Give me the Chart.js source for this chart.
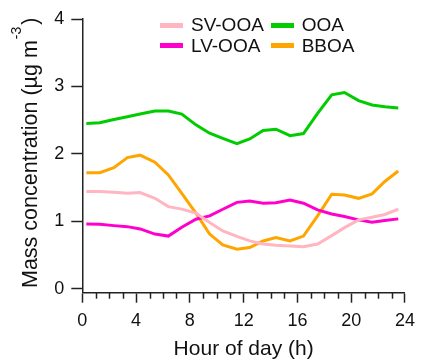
<!DOCTYPE html>
<html>
<head>
<meta charset="utf-8">
<script src="https://cdn.jsdelivr.net/npm/chart.js@4/dist/chart.umd.min.js"></script>
<style>
  html, body { margin: 0; padding: 0; background: #fff; }
  #wrap { position: relative; width: 423px; height: 361px; }
  #legend { position: absolute; left: 0; top: 0; font-family: "Liberation Sans", Arial, sans-serif; font-size: 19px; color: #111; }
  .item { position: absolute; display: flex; align-items: center; height: 20px; line-height: 20px; white-space: nowrap; }
  .sw { width: 23px; height: 5px; margin-right: 8px; }
</style>
</head>
<body>
<div id="wrap">
  <canvas id="c" width="423" height="361"></canvas>
  <div id="legend"></div>
</div>
<script>
// Hour of day (h) of each averaged point
const hours = [0.3, 1.3, 2.35, 3.35, 4.3, 5.4, 6.4, 7.4, 8.45, 9.47, 10.45, 11.5,
               12.45, 13.45, 14.4, 15.45, 16.45, 17.5, 18.55, 19.5, 20.55, 21.55, 22.5, 23.5];

// Diurnal mass concentrations (µg m-3)
const svOOA = [1.44, 1.44, 1.43, 1.415, 1.425, 1.34, 1.217, 1.18, 1.12, 0.98, 0.856, 0.775,
               0.708, 0.663, 0.644, 0.633, 0.623, 0.663, 0.787, 0.905, 1.02, 1.06, 1.10, 1.178];
const lvOOA = [0.96, 0.955, 0.935, 0.92, 0.886, 0.81, 0.78, 0.91, 1.03, 1.08, 1.178, 1.28,
               1.30, 1.267, 1.276, 1.316, 1.267, 1.168, 1.108, 1.07, 1.02, 0.985, 1.01, 1.035];
const ooa   = [2.45, 2.46, 2.51, 2.55, 2.59, 2.635, 2.635, 2.59, 2.43, 2.305, 2.23, 2.15,
               2.22, 2.345, 2.365, 2.27, 2.30, 2.6, 2.875, 2.91, 2.79, 2.725, 2.70, 2.68];
const bboa  = [1.72, 1.72, 1.795, 1.944, 1.98, 1.875, 1.687, 1.415, 1.12, 0.81, 0.65, 0.585,
               0.61, 0.708, 0.757, 0.708, 0.78, 1.08, 1.40, 1.39, 1.34, 1.405, 1.59, 1.746];

const xTicks = [0, 4, 8, 12, 16, 20, 24];
const yTicks = [0, 1, 2, 3, 4];

const FONT = "'Liberation Sans', Arial, sans-serif";
const AXIS = '#222';

const pts = arr => arr.map((v, i) => ({ x: hours[i], y: v }));
const line = (label, data, color) => ({
  label, data: pts(data), borderColor: color, backgroundColor: color,
  borderWidth: 3, pointRadius: 0, tension: 0, fill: false,
  borderJoinStyle: 'miter', borderCapStyle: 'butt'
});

const datasets = [
  line('SV-OOA', svOOA, '#FFB6C1'),
  line('LV-OOA', lvOOA, '#FF00CC'),
  line('OOA', ooa, '#00CC00'),
  line('BBOA', bboa, '#FFA500')
];

// minor hour ticks and the axis titles
const extras = {
  id: 'extras',
  afterDraw(chart) {
    const ctx = chart.ctx;
    const xs = chart.scales.x;
    const area = chart.chartArea;
    ctx.save();
    ctx.strokeStyle = AXIS;
    ctx.lineWidth = 1.5;
    for (let h = 0; h <= 24; h++) {
      if (h % 4 === 0) continue;
      const px = Math.round(xs.getPixelForValue(h)) + 0.5;
      ctx.beginPath();
      ctx.moveTo(px, area.bottom);
      ctx.lineTo(px, area.bottom + 6);
      ctx.stroke();
    }
    ctx.fillStyle = '#111';
    // x title
    ctx.font = '21px ' + FONT;
    ctx.textAlign = 'center';
    ctx.textBaseline = 'alphabetic';
    ctx.fillText('Hour of day (h)', (area.left + area.right) / 2, 355);
    // y title, rotated, with superscript
    ctx.translate(37, 288);
    ctx.rotate(-Math.PI / 2);
    ctx.textAlign = 'left';
    const main = 'Mass concentration (µg m';
    ctx.font = '21.5px ' + FONT;
    ctx.fillText(main, 0, 0);
    let w = ctx.measureText(main).width;
    ctx.font = '14px ' + FONT;
    ctx.fillText('-3', w + 1, -16);
    w += ctx.measureText('-3').width + 3;
    ctx.font = '21.5px ' + FONT;
    ctx.fillText(')', w, 0);
    ctx.restore();
  }
};

Chart.defaults.font.family = FONT;
Chart.defaults.color = '#111';

const chart = new Chart(document.getElementById('c'), {
  type: 'line',
  data: { datasets },
  options: {
    responsive: false,
    animation: false,
    layout: { padding: { top: 19, right: 12.7, left: 0, bottom: 0 } },
    plugins: { legend: { display: false }, tooltip: { enabled: false } },
    scales: {
      x: {
        type: 'linear', min: 0, max: 24,
        afterBuildTicks: s => { s.ticks = xTicks.map(v => ({ value: v })); },
        afterFit: s => { s.height = 68.3; },
        grid: { drawOnChartArea: false, drawTicks: true, tickLength: 10, tickColor: AXIS, tickWidth: 1.5 },
        border: { display: true, color: AXIS, width: 1.5 },
        ticks: { font: { size: 18 }, color: '#111', padding: 8, maxRotation: 0, autoSkip: false }
      },
      y: {
        type: 'linear', min: -0.06, max: 4,
        afterBuildTicks: s => { s.ticks = yTicks.map(v => ({ value: v })); },
        afterFit: s => { s.width = 82.3; },
        grid: { drawOnChartArea: false, drawTicks: true, tickLength: 11, tickColor: AXIS, tickWidth: 1.5 },
        border: { display: true, color: AXIS, width: 1.5 },
        ticks: { font: { size: 18 }, color: '#111', padding: 7 }
      }
    }
  },
  plugins: [extras]
});

// two-column legend drawn over the top of the plot
const legendPos = [
  { x: 160, y: 25 },   // SV-OOA
  { x: 160, y: 45.7 }, // LV-OOA
  { x: 270.7, y: 25 }, // OOA
  { x: 270.7, y: 45.7 } // BBOA
];
const legend = document.getElementById('legend');
chart.data.datasets.forEach((ds, i) => {
  const it = document.createElement('div');
  it.className = 'item';
  it.style.left = legendPos[i].x + 'px';
  it.style.top = (legendPos[i].y - 10) + 'px';
  const sw = document.createElement('span');
  sw.className = 'sw';
  sw.style.background = ds.borderColor;
  const tx = document.createElement('span');
  tx.textContent = ds.label;
  it.appendChild(sw);
  it.appendChild(tx);
  legend.appendChild(it);
});
</script>
</body>
</html>
